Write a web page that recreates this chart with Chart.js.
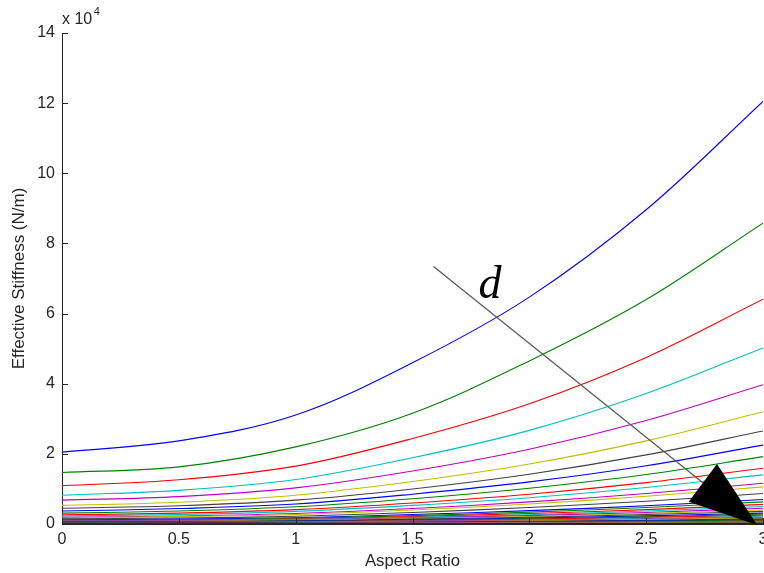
<!DOCTYPE html>
<html>
<head>
<meta charset="utf-8">
<script src="https://cdn.jsdelivr.net/npm/chart.js@4.4.1/dist/chart.umd.min.js"></script>
<style>
  html, body { margin: 0; padding: 0; background: #fff; }
  #wrap { width: 764px; height: 573px; position: relative; }
</style>
</head>
<body>
<div id="wrap"><canvas id="c" width="764" height="573"></canvas></div>
<script>
// Aspect ratio samples (x axis)
const aspectRatio = [0, 0.5, 1, 1.5, 2, 2.5, 3];
// Effective stiffness, in units of 1e4 N/m, one array per curve (top to bottom)
const d01 = [2.05, 2.37, 3.11, 4.60, 6.47, 8.96, 12.05];
const d02 = [1.47, 1.63, 2.20, 3.16, 4.65, 6.40, 8.58];
const d03 = [1.09, 1.26, 1.65, 2.44, 3.43, 4.75, 6.41];
const d04 = [0.82, 0.96, 1.27, 1.89, 2.67, 3.72, 5.02];
const d05 = [0.68, 0.78, 1.03, 1.51, 2.13, 2.95, 3.97];
const d06 = [0.53, 0.62, 0.82, 1.21, 1.71, 2.37, 3.20];
const d07 = [0.45, 0.52, 0.68, 1.00, 1.42, 1.97, 2.65];
const d08 = [0.37, 0.44, 0.57, 0.85, 1.20, 1.66, 2.25];
const d09 = [0.31, 0.37, 0.49, 0.72, 1.02, 1.41, 1.92];
const d10 = [0.26, 0.31, 0.41, 0.60, 0.85, 1.18, 1.59];
const d11 = [0.23, 0.27, 0.36, 0.53, 0.75, 1.04, 1.40];
const d12 = [0.19, 0.23, 0.30, 0.44, 0.63, 0.87, 1.16];
const d13 = [0.17, 0.21, 0.27, 0.40, 0.57, 0.79, 1.06];
const d14 = [0.15, 0.17, 0.22, 0.33, 0.47, 0.65, 0.87];
const d15 = [0.12, 0.14, 0.18, 0.27, 0.38, 0.52, 0.70];
const d16 = [0.11, 0.12, 0.16, 0.24, 0.34, 0.47, 0.63];
const d17 = [0.09, 0.11, 0.14, 0.21, 0.30, 0.41, 0.56];
const d18 = [0.084, 0.097, 0.128, 0.19, 0.265, 0.37, 0.50];
const d19 = [0.076, 0.088, 0.115, 0.17, 0.24, 0.33, 0.45];
const d20 = [0.068, 0.078, 0.103, 0.152, 0.214, 0.30, 0.40];
const d21 = [0.062, 0.071, 0.093, 0.138, 0.194, 0.27, 0.36];
const d22 = [0.053, 0.062, 0.081, 0.12, 0.168, 0.233, 0.31];
const d23 = [0.047, 0.055, 0.072, 0.106, 0.149, 0.206, 0.28];
const d24 = [0.043, 0.05, 0.065, 0.097, 0.136, 0.188, 0.25];
const d25 = [0.037, 0.043, 0.056, 0.083, 0.116, 0.161, 0.22];
const d26 = [0.033, 0.038, 0.05, 0.074, 0.104, 0.143, 0.19];
const d27 = [0.029, 0.033, 0.044, 0.064, 0.091, 0.125, 0.17];
const d28 = [0.025, 0.028, 0.037, 0.055, 0.078, 0.108, 0.145];
const d29 = [0.021, 0.024, 0.031, 0.046, 0.065, 0.09, 0.12];
const d30 = [0.017, 0.02, 0.026, 0.039, 0.055, 0.076, 0.10];
const d31 = [0.014, 0.017, 0.022, 0.032, 0.045, 0.063, 0.084];
const d32 = [0.011, 0.013, 0.017, 0.025, 0.036, 0.049, 0.066];
const d33 = [0.009, 0.011, 0.014, 0.021, 0.029, 0.04, 0.054];
const d34 = [0.007, 0.008, 0.011, 0.016, 0.023, 0.031, 0.042];
const d35 = [0.005, 0.006, 0.008, 0.012, 0.016, 0.022, 0.03];
const d36 = [0.003, 0.004, 0.005, 0.007, 0.01, 0.013, 0.018];
const curves = [d01,d02,d03,d04,d05,d06,d07,d08,d09,d10,d11,d12,d13,d14,d15,d16,d17,d18,
                d19,d20,d21,d22,d23,d24,d25,d26,d27,d28,d29,d30,d31,d32,d33,d34,d35,d36];

const xTicks = [0, 0.5, 1, 1.5, 2, 2.5, 3];
const yTicks = [0, 2, 4, 6, 8, 10, 12, 14];
const xTickLabels = ['0', '0.5', '1', '1.5', '2', '2.5', '3'];
const yTickLabels = ['0', '2', '4', '6', '8', '10', '12', '14'];

// Annotation (arrow labelled d), in data coordinates
const arrowStart = [1.59, 7.34];
const arrowTip = [2.975, -0.03];
const arrowBaseA = [2.803, 1.71];
const arrowBaseB = [2.682, 0.636];
const dLabelPos = [1.782, 6.44];

const matlabColors = ['#0000ff', '#008000', '#ff0000', '#00bfbf', '#bf00bf', '#bfbf00', '#404040'];
const AXIS = '#262626';
const FONT = '"Liberation Sans", Arial, sans-serif';

const datasets = curves.map((ys, i) => ({
  data: ys.map((y, j) => ({ x: aspectRatio[j], y: y })),
  borderColor: matlabColors[i % 7],
  borderWidth: 1.1,
  pointRadius: 0,
  fill: false,
  tension: 0.35,
  order: -i
}));

const decor = {
  id: 'decor',
  afterDatasetsDraw(chart) {
    const ctx = chart.ctx, xs = chart.scales.x, ys = chart.scales.y;
    const ca = chart.chartArea;
    const P = p => [xs.getPixelForValue(p[0]), ys.getPixelForValue(p[1])];
    ctx.save();
    // inward tick marks
    ctx.strokeStyle = AXIS; ctx.lineWidth = 1;
    ctx.beginPath();
    yTicks.forEach(v => { const py = Math.round(ys.getPixelForValue(v)) + 0.5; ctx.moveTo(ca.left, py); ctx.lineTo(ca.left + 6, py); });
    xTicks.forEach(v => { const px = Math.round(xs.getPixelForValue(v)) + 0.5; ctx.moveTo(px, ca.bottom); ctx.lineTo(px, ca.bottom - 6); });
    ctx.stroke();
    // arrow line
    const s = P(arrowStart), t = P(arrowTip), a = P(arrowBaseA), b = P(arrowBaseB);
    ctx.strokeStyle = '#5a5a5a'; ctx.lineWidth = 1.3;
    ctx.beginPath(); ctx.moveTo(s[0], s[1]); ctx.lineTo((a[0]+b[0])/2, (a[1]+b[1])/2); ctx.stroke();
    ctx.fillStyle = '#000';
    ctx.beginPath(); ctx.moveTo(t[0], t[1]); ctx.lineTo(a[0], a[1]); ctx.lineTo(b[0], b[1]); ctx.closePath(); ctx.fill();
    // d label
    const dp = P(dLabelPos);
    ctx.fillStyle = '#000';
    ctx.font = 'italic 46px "Liberation Serif", "Times New Roman", serif';
    ctx.textAlign = 'left'; ctx.textBaseline = 'alphabetic';
    ctx.fillText('d', dp[0], dp[1]);
    // exponent label
    ctx.fillStyle = AXIS;
    ctx.font = '16px ' + FONT;
    ctx.fillText('x 10', ca.left, ca.top - 9);
    const w = ctx.measureText('x 10').width;
    ctx.font = '11px ' + FONT;
    ctx.fillText('4', ca.left + w + 1.5, ca.top - 18);
    ctx.restore();
  }
};

new Chart(document.getElementById('c'), {
  type: 'line',
  data: { datasets },
  options: {
    responsive: false,
    animation: false,
    devicePixelRatio: 1,
    layout: { padding: { top: 33, right: 1, left: 0, bottom: 0 } },
    plugins: { legend: { display: false }, tooltip: { enabled: false } },
    scales: {
      x: {
        type: 'linear', min: 0, max: 3,
        afterBuildTicks: sc => { sc.ticks = xTicks.map(v => ({ value: v })); },
        afterFit: sc => { sc.height = 49; sc.paddingLeft = 0; sc.paddingRight = 0; },
        grid: { display: false, drawTicks: false },
        border: { display: true, color: AXIS, width: 1 },
        ticks: { color: AXIS, font: { family: FONT, size: 16 }, padding: 6, maxRotation: 0, autoSkip: false,
                 callback: (v, i) => xTickLabels[i] },
        title: { display: true, text: 'Aspect Ratio', color: AXIS, font: { family: FONT, size: 16.8 }, padding: { top: 0, bottom: 2 } }
      },
      y: {
        type: 'linear', min: 0, max: 14,
        afterBuildTicks: sc => { sc.ticks = yTicks.map(v => ({ value: v })); },
        afterFit: sc => { sc.width = 62; sc.paddingTop = 0; sc.paddingBottom = 0; },
        grid: { display: false, drawTicks: false },
        border: { display: true, color: AXIS, width: 1 },
        ticks: { color: AXIS, font: { family: FONT, size: 16 }, padding: 7, autoSkip: false,
                 callback: (v, i) => yTickLabels[i] },
        title: { display: true, text: 'Effective Stiffness (N/m)', color: AXIS, font: { family: FONT, size: 17 }, padding: { top: 9, bottom: 0 } }
      }
    }
  },
  plugins: [decor]
});
</script>
</body>
</html>
